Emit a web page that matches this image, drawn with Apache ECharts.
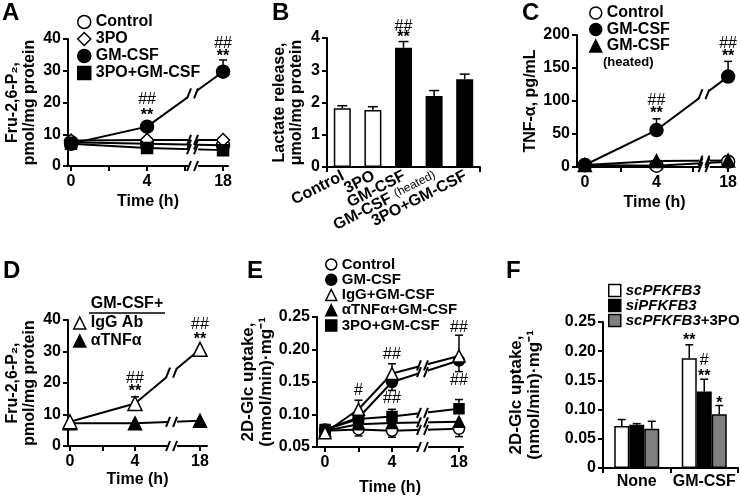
<!DOCTYPE html>
<html><head><meta charset="utf-8">
<script src="https://cdn.jsdelivr.net/npm/echarts@6/dist/echarts.min.js"></script>
<style>html,body{margin:0;padding:0;background:#fff}#c{width:740px;height:498px}</style>
</head><body><div id="c"></div>
<script>
// ---------- DATA ----------
// Panel A: Fru-2,6-P2 (pmol/mg protein) vs time
const A_TIMES = [0, 4, 18];
const A_CONTROL = [7.5, 7, 6.5];
const A_3PO = [8, 8.2, 8.2];
const A_GMCSF = [7, 12.4, 29.7];
const A_3PO_GMCSF = [7, 5.7, 5];
const A_ERR = [[18, 29.7, 33.4]];
const A_ANN = [[4, 20.8, '##'], [4, 17.1, '**'], [18, 38.6, '##'], [18, 35.5, '**']];
const A_TICKS = [0, 2, 4, 6, 18];
const A_LABELS = [0, 4, 18];

// Panel B: Lactate release
const B_CATS = ['Control', '3PO', 'GM-CSF', 'GM-CSF (heated)', '3PO+GM-CSF'];
const B_VALUES = [1.82, 1.77, 3.7, 2.2, 2.72];
const B_ERR_TOP = [1.9, 1.87, 3.89, 2.37, 2.88];
const B_ANN = [[2, 4.35, '##'], [2, 4.11, '**']];

// Panel C: TNF-alpha
const C_TIMES = [0, 4, 18];
const C_CONTROL = [3, 2, 8];
const C_GMCSF = [3, 56, 137];
const C_HEATED = [3, 9, 10];
const C_ERR = [[4, 56, 73], [18, 137, 160]];
const C_ANN = [[4, 101, '##'], [4, 86, '**'], [18, 187, '##'], [18, 172, '**']];

// Panel D: Fru-2,6-P2 with antibodies
const D_TIMES = [0, 4, 18];
const D_IGG = [7.7, 13.5, 30.7];
const D_ATNF = [7.2, 7.2, 8];
const D_ERR = [[4, 13.5, 15.6]];
const D_ANN = [[4, 21.5, '##'], [4, 18.3, '**'], [18, 38.4, '##'], [18, 34.9, '**']];

// Panel E: 2D-Glc uptake vs time
const E_TIMES = [0, 2, 4, 18];
const E_CONTROL = [0.075, 0.077, 0.075, 0.078];
const E_GMCSF = [0.077, 0.095, 0.15, 0.183];
const E_IGG = [0.072, 0.108, 0.163, 0.19];
const E_ATNF = [0.075, 0.085, 0.087, 0.089];
const E_3PO = [0.077, 0.093, 0.097, 0.109];
const E_ERR = [[2, 0.077, 0.067], [4, 0.075, 0.065], [18, 0.078, 0.066],
               [4, 0.15, 0.137], [18, 0.183, 0.166],
               [2, 0.108, 0.122], [4, 0.163, 0.178], [18, 0.19, 0.222],
               [2, 0.093, 0.1], [4, 0.097, 0.108], [18, 0.109, 0.123]];
const E_ANN = [[2, 0.137, '#'], [4, 0.192, '##'], [4, 0.125, '##'], [18, 0.234, '##'], [18, 0.152, '##']];
const E_TICKS = [0, 2, 4, 18];

// Panel F: 2D-Glc uptake bars
const F_CATS = ['None', 'GM-CSF'];
const F_SC = [0.072, 0.188];
const F_SI = [0.074, 0.131];
const F_SC3PO = [0.067, 0.092];
const F_ERR_SC = [0.083, 0.211];
const F_ERR_SI = [0.076, 0.152];
const F_ERR_SC3PO = [0.080, 0.107];
const F_ANN = [[1, 0, 0.224, '**'], [1, 1, 0.184, '#'], [1, 1, 0.163, '**'], [1, 2, 0.117, '*']];

// ---------- STYLE ----------
const FONT = '"Liberation Sans", Arial, Helvetica, sans-serif';
const TXT = {color: '#000', fontFamily: FONT, fontWeight: 'bold', fontSize: 16};
const AXLINE = {show: true, onZero: false, lineStyle: {color: '#000', width: 2}};
const AXTICK = {show: true, length: 5, lineStyle: {color: '#000', width: 2}};
const B_FILL = ['#fff', '#fff', '#000', '#000', '#000'];
const F_COLORS = ['#fff', '#000', '#808080'];
const F_BAR_W = 15;
const B_LABEL_ROT = 27 * Math.PI / 180;

// broken time axis: 0..6 h linear, 6..18 h compressed into 2 units
function bx(t) { return t <= 6 ? t : 6 + (t - 6) * (2 / 12); }
function ibx(v) { return v <= 6 ? v : 6 + (v - 6) * 6; }
function interp(xs, ys, x) {
  for (let i = 0; i < xs.length - 1; i++) {
    if (x >= xs[i] && x <= xs[i + 1]) return ys[i] + (ys[i + 1] - ys[i]) * (x - xs[i]) / (xs[i + 1] - xs[i]);
  }
  return ys[ys.length - 1];
}
const measureCtx = document.createElement('canvas').getContext('2d');
function textW(t, font) { measureCtx.font = font; return measureCtx.measureText(t).width; }

function yAx(gi, min, max, interval, name, nameGap, nameSize, fmt) {
  return {type: 'value', gridIndex: gi, min, max, interval,
    axisLine: AXLINE, axisTick: AXTICK, splitLine: {show: false},
    axisLabel: Object.assign({}, TXT, {margin: 7, formatter: fmt || (v => String(v))}),
    name, nameLocation: 'middle', nameGap, nameRotate: 90,
    nameTextStyle: {color: '#000', fontFamily: FONT, fontWeight: 'bold', fontSize: nameSize, lineHeight: nameSize + 1}};
}
function timeAx(gi, min, max, ticks, labels, nameGap) {
  return {type: 'value', gridIndex: gi, min, max,
    axisLine: AXLINE, splitLine: {show: false},
    axisTick: Object.assign({}, AXTICK, {customValues: ticks.map(bx)}),
    axisLabel: Object.assign({}, TXT, {margin: 8, customValues: labels.map(bx),
      formatter: v => String(Math.round(ibx(v)))}),
    name: 'Time (h)', nameLocation: 'middle', nameGap, nameTextStyle: Object.assign({}, TXT)};
}
function lineS(name, gi, times, vals, symbol, filled, size) {
  return {type: 'line', name, xAxisIndex: gi, yAxisIndex: gi, z: 3,
    data: times.map((t, i) => [bx(t), vals[i]]),
    symbol, symbolSize: size, showSymbol: true,
    lineStyle: {color: '#000', width: 2},
    itemStyle: {color: filled ? '#000' : '#fff', borderColor: '#000', borderWidth: 1.5},
    emphasis: {disabled: true}};
}
function errS(gi, items, cap, mapX, barW) {
  return {type: 'custom', xAxisIndex: gi, yAxisIndex: gi, z: 2, clip: false, silent: true,
    data: items.map(d => [mapX ? mapX(d[0]) : d[0], d[1], d[2], d[3] == null ? 1 : d[3]]),
    renderItem: (p, api) => {
      const dx = (api.value(3) - 1) * (barW || 0);
      const a = api.coord([api.value(0), api.value(1)]);
      const b = api.coord([api.value(0), api.value(2)]);
      const x = a[0] + dx;
      const st = {stroke: '#000', lineWidth: 1.5};
      return {type: 'group', children: [
        {type: 'line', shape: {x1: x, y1: a[1], x2: x, y2: b[1]}, style: st},
        {type: 'line', shape: {x1: x - cap, y1: b[1], x2: x + cap, y2: b[1]}, style: st}]};
    }};
}
// significance marks; asterisks sit high in their em box, so they are nudged down
function annS(gi, items, mapX, barW) { // items: [x, y, text, k?]
  return {type: 'custom', xAxisIndex: gi, yAxisIndex: gi, z: 6, clip: false, silent: true,
    data: items.map(d => [mapX ? mapX(d[0]) : d[0], d[1], d[3] == null ? 1 : d[3]]),
    renderItem: (p, api) => {
      const c = api.coord([api.value(0), api.value(1)]);
      const t = items[p.dataIndex][2];
      const isHash = t.indexOf('#') >= 0;
      const dx = (api.value(2) - 1) * (barW || 0);
      return {type: 'text', x: c[0] + dx, y: c[1] + (isHash ? 0 : 3.5), style: {text: t, fill: '#000', fontFamily: FONT,
        fontSize: 16, fontWeight: isHash ? 'normal' : 'bold', align: 'center', verticalAlign: 'middle'}};
    }};
}
function breakS(gi, xb, times, seriesVals, ymin) {
  const xs = times.map(bx);
  const pts = seriesVals.map(v => [xb, interp(xs, v, xb)]);
  pts.push([xb, ymin]);
  const gap = {type: 'custom', xAxisIndex: gi, yAxisIndex: gi, z: 4, clip: false, silent: true, data: pts,
    renderItem: (p, api) => {
      const c = api.coord([api.value(0), api.value(1)]);
      return {type: 'rect', shape: {x: c[0] - 5, y: c[1] - 6, width: 10, height: 12}, style: {fill: '#fff'}};
    }};
  const sl = {type: 'custom', xAxisIndex: gi, yAxisIndex: gi, z: 5, clip: false, silent: true, data: pts,
    renderItem: (p, api) => {
      const c = api.coord([api.value(0), api.value(1)]);
      const st = {stroke: '#000', lineWidth: 2};
      return {type: 'group', children: [
        {type: 'line', shape: {x1: c[0] - 6, y1: c[1] + 5, x2: c[0] - 2, y2: c[1] - 5}, style: st},
        {type: 'line', shape: {x1: c[0] + 1, y1: c[1] + 5, x2: c[0] + 5, y2: c[1] - 5}, style: st}]};
    }};
  return [gap, sl];
}
// rotated category labels of panel B, anchored at each category position of the axis
function bLabelS() {
  const small = 'normal 12px ' + FONT;
  return {type: 'custom', xAxisIndex: 1, yAxisIndex: 1, z: 6, clip: false, silent: true,
    data: B_CATS.map((c, i) => [i, 0]),
    renderItem: (p, api) => {
      const c = api.coord([api.value(0), api.value(1)]);
      const name = B_CATS[p.dataIndex];
      const big = {fill: '#000', fontFamily: FONT, fontSize: 16, fontWeight: 'bold', align: 'right', verticalAlign: 'middle'};
      const children = [];
      if (name.indexOf(' (heated)') > 0) {
        const wh = textW('(heated)', small);
        children.push({type: 'text', x: 0, y: -1, style: {text: '(heated)', fill: '#000', fontFamily: FONT, fontSize: 12,
          fontWeight: 'normal', align: 'right', verticalAlign: 'middle'}});
        children.push({type: 'text', x: -wh - 5, y: 0, style: Object.assign({text: name.replace(' (heated)', '')}, big)});
      } else {
        children.push({type: 'text', x: 0, y: 0, style: Object.assign({text: name}, big)});
      }
      return {type: 'group', x: c[0] + 1, y: c[1] + 8, rotation: B_LABEL_ROT, children};
    }};
}
const openIt = {color: '#fff', borderColor: '#000', borderWidth: 1.5};
const fillIt = {color: '#000', borderColor: '#000', borderWidth: 1.5};
function legend(left, top, gap, size, lh, data, extra) {
  return Object.assign({orient: 'vertical', left, top, padding: 0, itemGap: gap, itemWidth: size, itemHeight: size,
    selectedMode: false, textStyle: Object.assign({}, TXT, {lineHeight: lh}), data}, extra || {});
}
const yNameE = '2D-Glc uptake,\n(nmol/min)·mg⁻¹';
const fmt2 = v => v === 0 ? '0' : v.toFixed(2);

const option = {
  animation: false,
  backgroundColor: '#fff',
  title: [['A', 2, 1], ['B', 272, 1], ['C', 522, 1], ['D', 3, 259], ['E', 247, 259], ['F', 506, 259]].map(t => ({
    text: t[0], left: t[1], top: t[2], padding: 0,
    textStyle: {fontSize: 24, fontWeight: 'bold', color: '#000', fontFamily: FONT}})),
  grid: [
    {left: 68, top: 39, width: 160, height: 127},
    {left: 327, top: 38, width: 153, height: 129},
    {left: 577, top: 35, width: 158, height: 132},
    {left: 68, top: 320, width: 139, height: 126},
    {left: 317, top: 317, width: 146, height: 130},
    {left: 603, top: 322, width: 135, height: 146}
  ],
  xAxis: [
    timeAx(0, -0.16, 8.26, A_TICKS, A_LABELS, 28),
    {type: 'category', gridIndex: 1, data: B_CATS, axisLine: AXLINE, axisTick: AXTICK, axisLabel: {show: false}},
    timeAx(2, -0.44, 8.22, A_TICKS, A_LABELS, 28),
    timeAx(3, -0.12, 8.43, A_TICKS, A_LABELS, 26),
    timeAx(4, -0.48, 8.24, E_TICKS, A_LABELS, 33),
    {type: 'category', gridIndex: 5, data: F_CATS, axisLine: AXLINE, axisTick: AXTICK,
      axisLabel: Object.assign({}, TXT, {margin: 6, interval: 0})}
  ],
  yAxis: [
    yAx(0, 0, 40, 10, 'Fru-2,6-P₂,\npmol/mg protein', 30, 16),
    yAx(1, 0, 4, 1, 'Lactate release,\nμmol/mg protein', 22, 16),
    yAx(2, 0, 200, 50, 'TNF-α, pg/mL', 36, 16),
    yAx(3, 0, 40, 10, 'Fru-2,6-P₂,\npmol/mg protein', 30, 16),
    yAx(4, 0.05, 0.25, 0.05, yNameE, 35, 17, fmt2),
    yAx(5, 0, 0.25, 0.05, yNameE, 60, 17, fmt2)
  ],
  legend: [
    legend(77, 14, 1, 13, 16, [
      {name: 'Control', icon: 'circle', itemStyle: openIt},
      {name: '3PO', icon: 'diamond', itemStyle: openIt},
      {name: 'GM-CSF', icon: 'circle', itemStyle: fillIt},
      {name: '3PO+GM-CSF', icon: 'rect', itemStyle: fillIt}]),
    legend(589, 5, 0.5, 12, 16, [
      {name: 'Control ', icon: 'circle', itemStyle: openIt},
      {name: 'GM-CSF ', icon: 'circle', itemStyle: fillIt},
      {name: 'GM-CSF (heated)', icon: 'triangle', itemStyle: fillIt}],
      {formatter: n => n.replace(' (heated)', '').trim()}),
    legend(73, 315, 2, 12, 16, [
      {name: 'IgG Ab', icon: 'triangle', itemStyle: openIt},
      {name: 'αTNFα', icon: 'triangle', itemStyle: fillIt}]),
    legend(325, 257, 0.25, 11, 15, [
      {name: 'Control  ', icon: 'circle', itemStyle: openIt},
      {name: 'GM-CSF  ', icon: 'circle', itemStyle: fillIt},
      {name: 'IgG+GM-CSF', icon: 'triangle', itemStyle: openIt},
      {name: 'αTNFα+GM-CSF', icon: 'triangle', itemStyle: fillIt},
      {name: '3PO+GM-CSF ', icon: 'rect', itemStyle: fillIt}],
      {formatter: n => n.trim(), textStyle: Object.assign({}, TXT, {fontSize: 15, lineHeight: 15})}),
    legend(608, 283, 0, 12, 15, [
      {name: 'scPFKFB3', icon: 'rect', itemStyle: {color: F_COLORS[0], borderColor: '#000', borderWidth: 1.5}},
      {name: 'siPFKFB3', icon: 'rect', itemStyle: {color: F_COLORS[1], borderColor: '#000', borderWidth: 1.5}},
      {name: 'scPFKFB3+3PO', icon: 'rect', itemStyle: {color: F_COLORS[2], borderColor: '#000', borderWidth: 1.5}}],
      {formatter: n => n.indexOf('+') > 0 ? '{i|' + n.split('+')[0] + '}{n|+' + n.split('+')[1] + '}' : '{i|' + n + '}',
       textStyle: {color: '#000', fontFamily: FONT, fontSize: 15, fontWeight: 'bold', lineHeight: 15,
         rich: {i: {fontStyle: 'italic', fontWeight: 'bold', fontSize: 15, fontFamily: FONT, color: '#000'},
                n: {fontWeight: 'bold', fontSize: 15, fontFamily: FONT, color: '#000'}}}})
  ],
  graphic: [
    {type: 'text', x: 603, y: 56, style: {text: '(heated)', fill: '#000', fontFamily: FONT, fontSize: 13, fontWeight: 'bold'}},
    {type: 'text', x: 127, y: 304, style: {text: 'GM-CSF+', fill: '#000', fontFamily: FONT, fontSize: 16, fontWeight: 'bold', align: 'center', verticalAlign: 'middle'}},
    {type: 'line', shape: {x1: 89, y1: 313, x2: 165, y2: 313}, style: {stroke: '#000', lineWidth: 1.5}}
  ],
  series: [
    // A
    errS(0, A_ERR, 4, bx),
    lineS('Control', 0, A_TIMES, A_CONTROL, 'circle', false, 13),
    lineS('3PO', 0, A_TIMES, A_3PO, 'diamond', false, 13),
    lineS('3PO+GM-CSF', 0, A_TIMES, A_3PO_GMCSF, 'rect', true, 11),
    lineS('GM-CSF', 0, A_TIMES, A_GMCSF, 'circle', true, 13),
    ...breakS(0, 6.42, A_TIMES, [A_CONTROL, A_3PO, A_3PO_GMCSF, A_GMCSF], 0),
    annS(0, A_ANN, bx),
    // B
    {type: 'bar', name: 'Lactate', xAxisIndex: 1, yAxisIndex: 1, barWidth: 17, z: 3,
      data: B_VALUES.map((v, i) => ({value: v, itemStyle: {color: B_FILL[i]}})),
      itemStyle: {borderColor: '#000', borderWidth: 1.5}, emphasis: {disabled: true}},
    errS(1, B_VALUES.map((v, i) => [i, v, B_ERR_TOP[i]]), 5),
    annS(1, B_ANN),
    bLabelS(),
    // C
    errS(2, C_ERR, 4, bx),
    lineS('Control ', 2, C_TIMES, C_CONTROL, 'circle', false, 13),
    lineS('GM-CSF (heated)', 2, C_TIMES, C_HEATED, 'triangle', true, 13),
    lineS('GM-CSF ', 2, C_TIMES, C_GMCSF, 'circle', true, 13),
    ...breakS(2, 6.68, C_TIMES, [C_CONTROL, C_HEATED, C_GMCSF], 0),
    annS(2, C_ANN, bx),
    // D
    errS(3, D_ERR, 4, bx),
    lineS('αTNFα', 3, D_TIMES, D_ATNF, 'triangle', true, 13),
    lineS('IgG Ab', 3, D_TIMES, D_IGG, 'triangle', false, 14),
    ...breakS(3, 6.28, D_TIMES, [D_ATNF, D_IGG], 0),
    annS(3, D_ANN, bx),
    // E
    errS(4, E_ERR, 4, bx),
    lineS('Control  ', 4, E_TIMES, E_CONTROL, 'circle', false, 11),
    lineS('αTNFα+GM-CSF', 4, E_TIMES, E_ATNF, 'triangle', true, 11),
    lineS('3PO+GM-CSF ', 4, E_TIMES, E_3PO, 'rect', true, 10),
    lineS('GM-CSF  ', 4, E_TIMES, E_GMCSF, 'circle', true, 11),
    lineS('IgG+GM-CSF', 4, E_TIMES, E_IGG, 'triangle', false, 12),
    ...breakS(4, 5.85, E_TIMES, [E_CONTROL, E_ATNF, E_3PO, E_GMCSF, E_IGG], 0.05),
    annS(4, E_ANN, bx),
    // F
    {type: 'bar', name: 'scPFKFB3', xAxisIndex: 5, yAxisIndex: 5, barWidth: F_BAR_W, barGap: '0%', data: F_SC,
      itemStyle: {color: F_COLORS[0], borderColor: '#000', borderWidth: 1.5}, emphasis: {disabled: true}},
    {type: 'bar', name: 'siPFKFB3', xAxisIndex: 5, yAxisIndex: 5, barWidth: F_BAR_W, barGap: '0%', data: F_SI,
      itemStyle: {color: F_COLORS[1], borderColor: '#000', borderWidth: 1.5}, emphasis: {disabled: true}},
    {type: 'bar', name: 'scPFKFB3+3PO', xAxisIndex: 5, yAxisIndex: 5, barWidth: F_BAR_W, barGap: '0%', data: F_SC3PO,
      itemStyle: {color: F_COLORS[2], borderColor: '#000', borderWidth: 1.5}, emphasis: {disabled: true}},
    errS(5, [].concat(
      F_SC.map((v, i) => [i, v, F_ERR_SC[i], 0]),
      F_SI.map((v, i) => [i, v, F_ERR_SI[i], 1]),
      F_SC3PO.map((v, i) => [i, v, F_ERR_SC3PO[i], 2])), 4, null, F_BAR_W),
    annS(5, F_ANN.map(d => [d[0], d[2], d[3], d[1]]), null, F_BAR_W)
  ]
};
const chart = echarts.init(document.getElementById('c'), null, {renderer: 'canvas'});
chart.setOption(option);
</script>
</body></html>
